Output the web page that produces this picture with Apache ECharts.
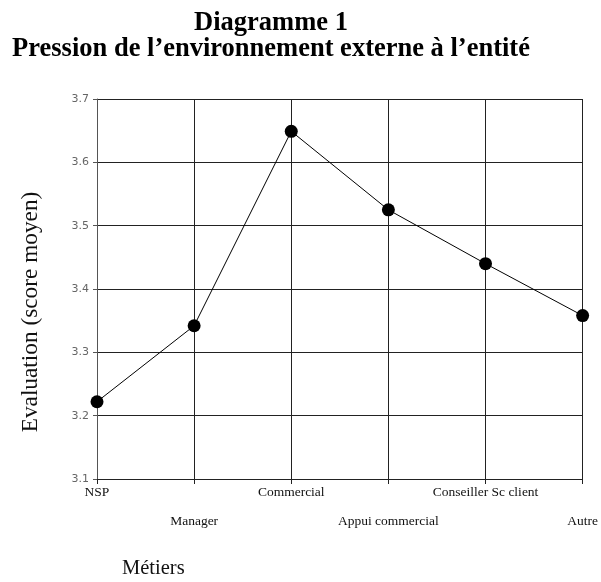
<!DOCTYPE html>
<html><head><meta charset="utf-8">
<script src="https://cdn.jsdelivr.net/npm/echarts@6/dist/echarts.min.js"></script>
<style>html,body{margin:0;padding:0;background:#fff}#c{width:601px;height:582px}</style>
</head><body><div id="c"></div>
<script>
const categories = ['NSP', 'Manager', 'Commercial', 'Appui commercial', 'Conseiller Sc client', 'Autre'];
const values = [3.222, 3.342, 3.649, 3.525, 3.440, 3.358];
const yTicks = [3.1, 3.2, 3.3, 3.4, 3.5, 3.6, 3.7];
const titleLines = ['Diagramme 1', 'Pression de l’environnement externe à l’entité'];
const yTitle = 'Evaluation (score moyen)';
const xTitle = 'Métiers';

const chart = echarts.init(document.getElementById('c'), null, {renderer: 'canvas'});
const serif = '"Liberation Serif", "DejaVu Serif", serif';
chart.setOption({
  animation: false,
  backgroundColor: '#fff',
  title: {
    text: titleLines.join('\n'),
    left: 266, top: 5, textAlign: 'center',
    textStyle: {fontFamily: serif, fontWeight: 'bold', fontSize: 26.5, lineHeight: 26, color: '#000'}
  },
  grid: {left: 97, right: 18, top: 99, bottom: 103, containLabel: false},
  xAxis: {
    type: 'category', data: categories, boundaryGap: false,
    axisLine: {lineStyle: {color: '#222', width: 1}},
    axisTick: {show: true, alignWithLabel: true, length: 5, lineStyle: {color: '#222'}},
    axisLabel: {
      interval: 0, margin: 6,
      fontFamily: serif, fontSize: 13.5, color: '#111', lineHeight: 14.5,
      formatter: (v, i) => (i % 2 === 1 ? '\n\n' + v : v)
    },
    splitLine: {show: true, lineStyle: {color: '#222', width: 1}}
  },
  yAxis: {
    type: 'value', min: yTicks[0], max: yTicks[yTicks.length - 1], interval: 0.1,
    axisLine: {show: true, lineStyle: {color: '#555', width: 1}},
    axisTick: {show: true, length: 4, lineStyle: {color: '#555'}},
    axisLabel: {
      margin: 8, fontFamily: '"DejaVu Sans", sans-serif', fontSize: 11, color: '#666',
      formatter: v => v.toFixed(1)
    },
    splitLine: {show: true, lineStyle: {color: '#222', width: 1}}
  },
  graphic: [
    {type: 'text', x: 31, y: 312, rotation: Math.PI / 2,
     style: {text: yTitle, fontFamily: serif, fontSize: 23.3, fill: '#111', align: 'center', verticalAlign: 'middle'}},
    {type: 'text', x: 122, y: 569,
     style: {text: xTitle, fontFamily: serif, fontSize: 20.5, fill: '#111', align: 'left', verticalAlign: 'middle'}}
  ],
  series: [{
    type: 'line', data: values,
    symbol: 'circle', symbolSize: 13,
    itemStyle: {color: '#000'},
    lineStyle: {color: '#000', width: 1}
  }]
});
</script></body></html>
